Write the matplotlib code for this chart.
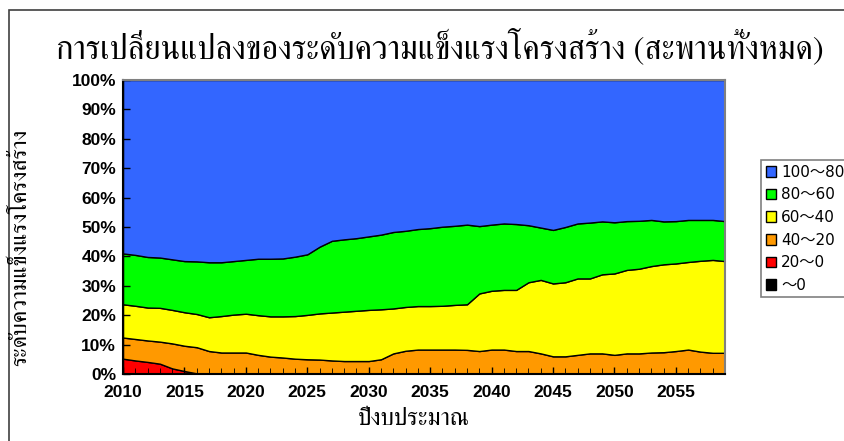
# grafico de areas apiladas: nivel de resistencia estructural de todos los puentes
import matplotlib.pyplot as plt
from matplotlib import font_manager
from matplotlib.ft2font import FT2Font
from matplotlib.patches import Rectangle
from matplotlib.ticker import MultipleLocator, PercentFormatter

anios = list(range(2010, 2060))

rojo = [5.2, 4.6, 4.1, 3.5, 1.9, 1.0, 0.2] + [0.0] * 43
naranja = [7.2, 7.3, 7.3, 7.5, 8.5, 8.6, 8.9, 7.8, 7.3, 7.3,
           7.3, 6.5, 5.9, 5.6, 5.2, 5.0, 4.9, 4.6, 4.4, 4.4,
           4.4, 5.0, 7.0, 7.9, 8.3, 8.3, 8.3, 8.3, 8.2, 7.8,
           8.3, 8.3, 7.8, 7.8, 7.0, 6.0, 6.0, 6.5, 7.0, 7.0,
           6.5, 7.0, 7.0, 7.3, 7.4, 7.8, 8.3, 7.6, 7.2, 7.2]
amarillo = [11.3, 11.3, 11.2, 11.5, 11.4, 11.4, 11.3, 11.5, 12.4, 12.9,
            13.2, 13.5, 13.7, 14.0, 14.5, 15.1, 15.7, 16.3, 16.8, 17.1,
            17.4, 17.0, 15.3, 14.9, 14.8, 14.8, 14.9, 15.2, 15.5, 19.6,
            20.0, 20.3, 20.8, 23.4, 25.0, 24.8, 25.2, 26.0, 25.5, 26.9,
            27.7, 28.4, 28.8, 29.4, 29.9, 29.8, 29.8, 30.9, 31.6, 31.2]
verde = [17.3, 17.3, 17.2, 17.1, 17.2, 17.4, 17.9, 18.7, 18.3, 18.2,
         18.3, 19.2, 19.6, 19.7, 20.2, 20.6, 22.7, 24.4, 24.6, 24.7,
         25.0, 25.4, 26.0, 25.9, 26.2, 26.5, 26.9, 26.9, 27.1, 22.9,
         22.5, 22.6, 22.4, 19.4, 17.8, 18.2, 18.8, 18.7, 19.0, 18.0,
         17.4, 16.6, 16.3, 15.7, 14.6, 14.4, 14.3, 13.9, 13.6, 13.6]
azul = [59.0, 59.5, 60.2, 60.4, 61.0, 61.6, 61.7, 62.0, 62.0, 61.6,
        61.2, 60.8, 60.8, 60.7, 60.1, 59.3, 56.7, 54.7, 54.2, 53.8,
        53.2, 52.6, 51.7, 51.3, 50.7, 50.4, 49.9, 49.6, 49.2, 49.7,
        49.2, 48.8, 49.0, 49.4, 50.2, 51.0, 50.0, 48.8, 48.5, 48.1,
        48.4, 48.0, 47.9, 47.6, 48.1, 48.0, 47.6, 47.6, 47.6, 48.0]
negro = [0.0] * 50

etiquetas = ['~0', '20~0', '40~20', '60~40', '80~60', '100~80']
etiquetas = [e.replace('~', '\uff5e') for e in etiquetas]
colores = ['#000000', '#ff0000', '#ff9900', '#ffff00', '#00ff00', '#3366ff']


def fuenteThai():
    # busca una fuente instalada que tenga la letra ก, mejor si es serif
    encontradas = []
    for f in font_manager.fontManager.ttflist:
        try:
            if 0x0E01 in FT2Font(f.fname).get_charmap():
                encontradas.append(f.name)
        except Exception:
            pass
    for n in encontradas:
        if 'Serif' in n:
            return n
    return encontradas[0] if encontradas else 'DejaVu Sans'


thai = fuenteThai()

fig = plt.figure(figsize=(8.45, 4.41), dpi=100)
ax = fig.add_axes([0.1456, 0.152, 0.7124, 0.6666])

ax.stackplot(anios, negro, rojo, naranja, amarillo, verde, azul,
             colors=colores, labels=etiquetas, edgecolor='black', linewidth=1)

ax.set_xlim(2010, 2059)
ax.set_ylim(0, 100)
ax.xaxis.set_major_locator(MultipleLocator(5))
ax.xaxis.set_minor_locator(MultipleLocator(1))
ax.yaxis.set_major_locator(MultipleLocator(10))
ax.yaxis.set_major_formatter(PercentFormatter(decimals=0))
ax.tick_params(direction='in', length=5, width=1, labelsize=12.5, pad=5)
ax.tick_params(axis='x', which='minor', direction='in', length=4)
ax.tick_params(axis='x', pad=8)
for lbl in ax.get_xticklabels() + ax.get_yticklabels():
    lbl.set_fontfamily('Liberation Sans')
    lbl.set_fontweight('bold')

for lado in ['top', 'right']:
    ax.spines[lado].set_color('#808080')
    ax.spines[lado].set_linewidth(1.5)
for lado in ['left', 'bottom']:
    ax.spines[lado].set_linewidth(1.5)

fig.text(0.521, 0.893, 'การเปลี่ยนแปลงของระดับความแข็งแรงโครงสร้าง (สะพานทั้งหมด)',
         ha='center', va='center', fontsize=23.5, family=[thai, 'DejaVu Sans'])
fig.text(0.49, 0.05, 'ปีงบประมาณ', ha='center', va='center', fontsize=17.5,
         family=[thai, 'DejaVu Sans'])
fig.text(0.024, 0.44, 'ระดับความแข็งแรงโครงสร้าง', rotation=90, ha='center',
         va='center', fontsize=16.7, family=[thai, 'DejaVu Sans'])

h, l = ax.get_legend_handles_labels()
ley = fig.legend(h[::-1], l[::-1], loc='upper left', bbox_to_anchor=(0.9006, 0.637),
                 bbox_transform=fig.transFigure, borderaxespad=0, fancybox=False,
                 edgecolor='#808080', framealpha=1, handlelength=0.7, handleheight=0.7,
                 handletextpad=0.3, labelspacing=0.5, borderpad=0.3,
                 prop={'family': ['DejaVu Sans', 'Noto Sans CJK JP'], 'size': 11})
ley.get_frame().set_linewidth(1.2)

# marco exterior del grafico
fig.patches.append(Rectangle((0.011, -0.1), 1.1, 1.077, transform=fig.transFigure,
                             fill=False, edgecolor='#404040', linewidth=1.2))

fig.savefig('out.png', dpi=100)
